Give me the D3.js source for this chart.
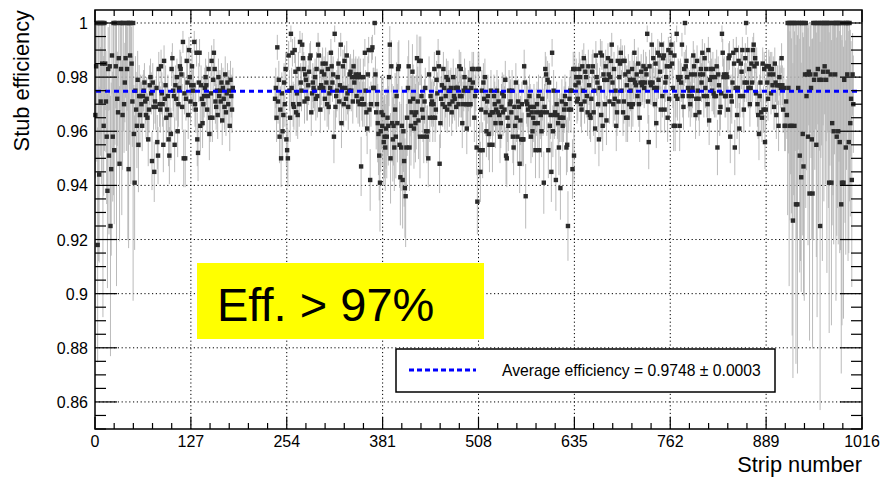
<!DOCTYPE html>
<html>
<head>
<meta charset="utf-8">
<title>Stub efficiency</title>
<style>
  body { margin: 0; background: #fff; }
  text { font-family: "Liberation Sans", Arial, sans-serif; fill: #000; }
</style>
</head>
<body>
<svg id="chart" width="884" height="477"></svg>

<script src="https://cdn.jsdelivr.net/npm/d3@7"></script>
<script>
// efficiency per strip, in per mille
var effA = [966,984,1000,918,1000,944,1000,971,1000,985,1000,962,1000,985,971,958,938,983,951,984,
  925,946,988,958,1000,953,1000,984,1000,972,967,987,948,1000,983,1000,966,1000,970,978,
  987,1000,983,1000,946,1000,988,1000,985,971,1000,959,941,975,968,962,979,955,973,966];
// events per strip for the low statistics edges
var nA = [60,45,35,40,20,50,42,70,30,60,16,55,38,50,80,65,45,70,55,60,
  30,50,60,70,28,60,40,65,18,90,80,55,60,35,70,25,80,45,90,100,
  60,38,70,22,60,40,75,30,80,100,17,120,90,150,160,150,180,140,200,220];
var startA = 0;

var effB = [973,970,962,973,975,978,971,966,972,965,957,968,977,980,974,949,978,969,945,971,
  969,976,956,951,983,970,968,984,974,970,955,986,972,977,965,968,973,957,951,966,
  959,983,987,975,973,955,977,972,980,960,970,976,984,983,981,969,993,950,974,950,
  972,986,978,966,990,980,971,977,984,975,977,993,970,968,989,957,952,978,989,962,
  977,972,963,970,973,976,980,977,968,973,983,959,965,974,986,965,979,989,983,971,
  969,975,966,980,973,975,971,978,964,976,972,969,981,967,974,978,970,975,962,979,
  973,968,976];
var startB = 60;

var effC = [972,976,965,991,971,979,958,968,950,974,960,966,978,970,
  983,957,953,950,988,975,965,996,976,989,970,969,990,982,967,974,966,983,970,993,
  978,975,992,987,983,971,981,979,972,972,977,982,987,988,967,974,978,976,975,980,
  972,983,973,992,988,976,968,977,982,985,
  976,981,972,985,978,970,983,
  969,974,976,989,984,978,981,958,996,969,973,975,980,985,971,977,992,963,976,984,
  970,986,976,972,988,974,969,975,981,982,
  975,980,971,984,
  978,980,981,973,980,971,981,970,980,947,972,970,980,970,989,975,967,961,981,990,
  968,942,970,990,991,976,976,1000,981,967,970,963,959,951,941,960,967,962,966,956,
  958,954,961,958,965,962,980,992,950,984,963,957,962,954,968,958,973,963,983,984,
  955,943,954,962,942,960,949,939,936,954,965,976,984,954,971,962,967,982,972,961,
  966,963,967,987,971,964,986,958,986,973,968,965,958,971,976,960,958,960,950,981,
  965,973,970,971,965,970,983,965,968,979,974,989,984,948,963,972,977,970,983,976,
  969,973,980,968,979,975,970,975,976,967,971,980,973,972,976,969,976,976,970,984,
  973,983,973,963,970,975,980,976,970,961,970,975,970,979,970,976,983,978,983,965,
  973,975,954,934,983];
var startC = 238;

var effF = [983,953,945,968,975,953,978,972,980,967,960,971,973,959,955,966,975,967,955,967,
  973,970,963,968,975,967,971,966,958,963,969,974,967,973,968,979,951,950,965,962,
  975,970,971,967,975,958,954,969,962,978,965,958,971,969,948,964,957,970,957,957,
  984,978,936,971,970,968,966,973,969,958,967,960,965,969,963,953,967,970,963,973,
  953,967,966,960,972,967,941,969,983,981,967,979,953,978,962,966,945,989,960,975,
  966,967,942,970,966,963,954,965,939,965,971,962,965,968,973,970,954,955,925,968,
  972,975,968,975,946,983];
var startF = 508;

var effG = [951,983,977,980,971,972,978,983,980,970,968,984,975,987,971,982,980,973,967,984,
  977,966,965,972,982,984,967,975,961,988,980,978,970,957,976,989,966,988,962,981,
  979,970,984,964,979,987,981,971,980,986,992,978,970,983,972,975,962,967,986,971,
  980,985,989,975,986,967,971,986,981,965,977,965,982,970,979,975,969,983,970,979,
  989,978,977,981,973,985,970,965,978,982,977,978,984,976,978,983,981,996,971,956,
  984,978,977,992,978,987,976,970,985,963,976,989,979,988,982,968,992,973,987,988,
  968,978,980,984,965,990,972,984,989,992,
  985,976,962,988,962,973,996,972,980,979,962,980,978,992,973,969,983,1000,984,986,
  980,976,973,975,970,981,973,976,988,984,981,966,972,986,975,972,967,981,983,978,
  989,981,973,987,976,983,973,970,990,964,979,983,980,975,983,974,973,980,973,984,
  954,981,977,967,969,974,996,989,980,981,973,973,981,980,968,987,988,958,973,971,
  978,989,985,954,976,990,966,976,986,961,973,985,982,990,973,968,978,987,1000,978,
  990,976,983,970,976,985,978,990,992,984,987,974,985,970,966,959,973,978,967,965,
  985,968,983,956,968,984,978,972,984,981,983,974,983,977,981,969,985,978,966,977,
  977,962,980,977,976,987,977,968,976,962,962,971,966];
var startG = 634;

var effH = [1000,976,1000,962,1000,962,1000,927,1000,962,1000,933,1000,933,976,1000,951,1000,943,1000,
  959,947,1000,981,1000,973,981,958,982,937,981,976,957,937,1000,979,1000,981,955,1000,
  983,1000,979,925,1000,979,1000,982,1000,984,1000,979,1000,982,1000,941,1000,981,941,963,
  1000,960,1000,981,1000,958,1000,960,1000,956,1000,933,941,1000,941,979,1000,954,1000,981,
  1000,956,1000,963,972,942,981,970];
var nH = [25,40,18,30,32,35,15,20,28,30,38,18,22,16,45,30,25,20,30,35,
  28,22,17,40,26,35,40,25,45,20,40,35,30,18,22,40,33,45,25,16,
  40,24,30,15,36,35,20,45,27,50,30,40,19,35,26,18,34,40,20,25,
  28,22,37,40,17,30,26,22,35,25,21,16,20,30,22,40,24,28,33,40,
  20,25,27,30,60,35,80,90];
var startH = 917;

// events per strip in the well populated middle part, by strip range
var nStart = [60, 238, 372, 432];
var nEvents = [420, 420, 170, 420];

var avgEff = 0.9748;
var xTicks = [0, 127, 254, 381, 508, 635, 762, 889, 1016];
var yTicks = [0.86, 0.88, 0.9, 0.92, 0.94, 0.96, 0.98, 1];

var segments = [[startA, effA, nA], [startB, effB], [startC, effC], [startF, effF], [startG, effG], [startH, effH, nH]];

function eventsFor(s) {
  var n = nEvents[0];
  for (var i = 0; i < nStart.length; i++) if (s >= nStart[i]) n = nEvents[i];
  return n;
}

var points = [];
segments.forEach(function(seg) {
  seg[1].forEach(function(v, i) {
    var s = seg[0] + i, p = v / 1000, lo, hi;
    var n = seg[2] ? seg[2][i] : eventsFor(s);
    if (p >= 1) { lo = Math.pow(0.1587, 1 / n); hi = 1; }
    else {
      var e = Math.sqrt(p * (1 - p) / n);
      lo = p - e; hi = Math.min(1, p + e);
    }
    points.push({strip: s, eff: p, lo: lo, hi: hi});
  });
});

var L = 95, R = 862, T = 10, B = 429;
var x = d3.scaleLinear().domain([0, 1016]).range([L, R]);
var y = d3.scaleLinear().domain([0.85, 1.0048]).range([B, T]);

var svg = d3.select('#chart');

// grid
var grid = svg.append('g').attr('stroke', '#000').attr('stroke-width', 1).attr('stroke-dasharray', '1.2,2.6');
grid.selectAll('.gx').data(xTicks.slice(1, -1)).enter().append('line')
  .attr('x1', function(d) { return x(d); }).attr('x2', function(d) { return x(d); })
  .attr('y1', T).attr('y2', B);
grid.selectAll('.gy').data(yTicks).enter().append('line')
  .attr('x1', L).attr('x2', R)
  .attr('y1', function(d) { return y(d); }).attr('y2', function(d) { return y(d); });

// error bars
svg.append('g').attr('stroke', '#b3b3b3').attr('stroke-width', 0.9)
  .selectAll('line').data(points).enter().append('line')
  .attr('x1', function(d) { return x(d.strip + 0.5); })
  .attr('x2', function(d) { return x(d.strip + 0.5); })
  .attr('y1', function(d) { return y(Math.max(d.lo, 0.85)); })
  .attr('y2', function(d) { return y(d.hi); });

// markers
svg.append('g').attr('fill', '#2b2b2b')
  .selectAll('rect').data(points).enter().append('rect')
  .attr('x', function(d) { return x(d.strip + 0.5) - 2.2; })
  .attr('y', function(d) { return y(d.eff) - 2.2; })
  .attr('width', 4.4).attr('height', 4.4);

// average line
svg.append('line')
  .attr('x1', L + 1).attr('x2', R - 4)
  .attr('y1', y(avgEff)).attr('y2', y(avgEff))
  .attr('stroke', '#0000ff').attr('stroke-width', 3).attr('stroke-dasharray', '5,4');

// frame and ticks
svg.append('rect').attr('x', L).attr('y', T).attr('width', R - L).attr('height', B - T)
  .attr('fill', 'none').attr('stroke', '#000').attr('stroke-width', 1.5);

var xMinor = d3.range(0, 1016.01, 25.4);
var yMinor = d3.range(0.85, 1.0001, 0.005);
var ticks = svg.append('g').attr('stroke', '#000').attr('stroke-width', 1.2);
xMinor.forEach(function(v, i) {
  var len = (i % 5 === 0) ? 12 : 6;
  ticks.append('line').attr('x1', x(v)).attr('x2', x(v)).attr('y1', B).attr('y2', B - len);
  ticks.append('line').attr('x1', x(v)).attr('x2', x(v)).attr('y1', T).attr('y2', T + len);
});
yMinor.forEach(function(v, i) {
  var len = ((i + 2) % 4 === 0) ? 22 : 11;
  ticks.append('line').attr('x1', L).attr('x2', L + len).attr('y1', y(v)).attr('y2', y(v));
  ticks.append('line').attr('x1', R).attr('x2', R - len).attr('y1', y(v)).attr('y2', y(v));
});

svg.append('g').selectAll('text').data(xTicks).enter().append('text')
  .attr('x', function(d) { return x(d); }).attr('y', 447)
  .attr('text-anchor', 'middle').attr('font-size', 16)
  .text(function(d) { return d; });
svg.append('g').selectAll('text').data(yTicks).enter().append('text')
  .attr('x', 88).attr('y', function(d) { return y(d) + 6; })
  .attr('text-anchor', 'end').attr('font-size', 16)
  .text(function(d) { return String(+d.toFixed(2)); });

svg.append('text').attr('transform', 'translate(29,10) rotate(-90)')
  .attr('text-anchor', 'end').attr('font-size', 21.8).text('Stub efficiency');
svg.append('text').attr('x', R).attr('y', 472)
  .attr('text-anchor', 'end').attr('font-size', 21.8).text('Strip number');

// yellow label
svg.append('rect').attr('x', 197).attr('y', 263).attr('width', 287).attr('height', 76).attr('fill', '#ffff00');
svg.append('text').attr('x', 217).attr('y', 321).attr('font-size', 47).text('Eff. > 97%');

// legend
svg.append('rect').attr('x', 396).attr('y', 349).attr('width', 379).attr('height', 43)
  .attr('fill', '#fff').attr('stroke', '#000').attr('stroke-width', 1.5);
svg.append('line').attr('x1', 409).attr('x2', 476).attr('y1', 370).attr('y2', 370)
  .attr('stroke', '#0000ff').attr('stroke-width', 3).attr('stroke-dasharray', '5,3');
svg.append('text').attr('x', 502).attr('y', 376).attr('font-size', 15.7)
  .text('Average efficiency = ' + avgEff.toFixed(4) + ' \u00b1 0.0003');
</script>
</body>
</html>
